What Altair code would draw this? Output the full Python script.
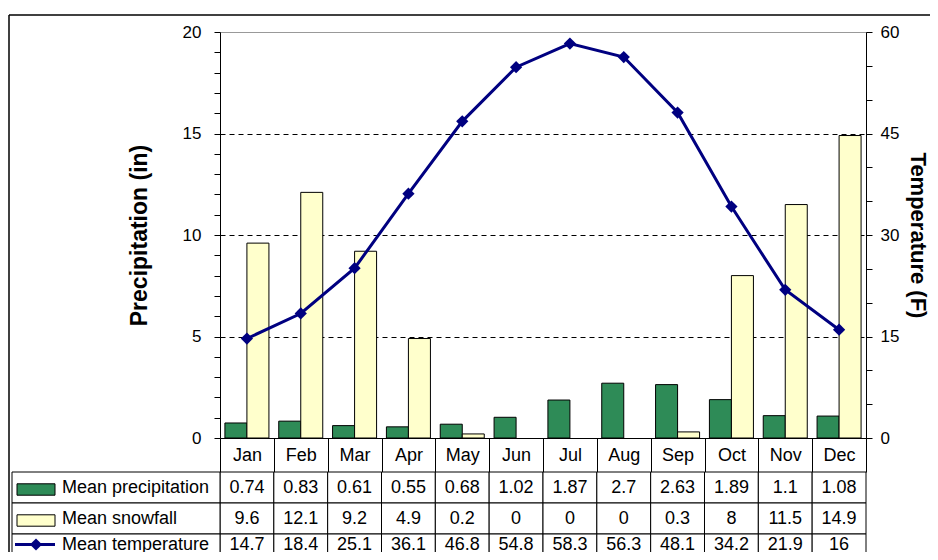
import altair as alt
import pandas as pd

months = ["Jan", "Feb", "Mar", "Apr", "May", "Jun", "Jul", "Aug", "Sep", "Oct", "Nov", "Dec"]
precip = [0.74, 0.83, 0.61, 0.55, 0.68, 1.02, 1.87, 2.7, 2.63, 1.89, 1.1, 1.08]
snow = [9.6, 12.1, 9.2, 4.9, 0.2, 0, 0, 0, 0.3, 8, 11.5, 14.9]
temp = [14.7, 18.4, 25.1, 36.1, 46.8, 54.8, 58.3, 56.3, 48.1, 34.2, 21.9, 16]
row_names = ["Mean precipitation", "Mean snowfall", "Mean temperature"]

GREEN = "#2e8b57"
YELLOW = "#ffffcc"
NAVY = "#000080"
FONT = "Liberation Sans"
W, H, HEAD, ROW, LABW = 646, 406, 34, 31, 208

bars_df = pd.DataFrame({
    "month": months * 2,
    "series": [row_names[0]] * 12 + [row_names[1]] * 12,
    "value": precip + snow,
})
temp_df = pd.DataFrame({"month": months, "temp": temp})
table_df = pd.DataFrame({
    "month": months * 3,
    "row": [r for r in row_names for _ in months],
    "text": [f"{v:g}" for v in precip + snow + temp],
})
rows_df = pd.DataFrame({"row": row_names})
one = pd.DataFrame({"a": [0]})

xenc = alt.X("month:N", sort=months,
             scale=alt.Scale(paddingInner=0, paddingOuter=0),
             axis=alt.Axis(title=None, labelAngle=0, tickBand="extent", tickSize=HEAD,
                           labelPadding=-HEAD / 2, labelBaseline="middle", labelFontSize=18,
                           domainColor="black", tickColor="black"))

bars = alt.Chart(bars_df).mark_bar(strokeWidth=1).encode(
    x=xenc,
    xOffset=alt.XOffset("series:N", sort=row_names[:2],
                        scale=alt.Scale(paddingInner=0, paddingOuter=0.223)),
    y=alt.Y("value:Q", scale=alt.Scale(domain=[0, 20], nice=False),
            axis=alt.Axis(title="Precipitation (in)", values=list(range(21)),
                          labelExpr="datum.value % 5 === 0 ? datum.label : ''",
                          grid=True, gridDash=[5, 4], gridColor="black",
                          gridOpacity={"condition": {"test": "datum.value % 5 === 0 && datum.value > 0 && datum.value < 20", "value": 1}, "value": 0},
                          tickSize=6, labelPadding=13, titlePadding=31,
                          domainColor="black", tickColor="black")),
    color=alt.Color("series:N", sort=row_names[:2],
                    scale=alt.Scale(domain=row_names[:2], range=[GREEN, YELLOW]), legend=None),
    stroke=alt.condition(alt.datum.value > 0, alt.value("black"), alt.value("transparent")),
)

frame_left = alt.Chart(one).mark_rule(color="black", strokeWidth=1.5).encode(
    x=alt.value(-211), y=alt.value(-17), y2=alt.value(H + 200))
frame_top = alt.Chart(one).mark_rule(color="black", strokeWidth=1.5).encode(
    x=alt.value(-211), x2=alt.value(W + 80), y=alt.value(-17))

line = alt.Chart(temp_df).mark_line(
    color=NAVY, strokeWidth=3,
    point=alt.OverlayMarkDef(shape="diamond", filled=True, size=150, color=NAVY)).encode(
    x=xenc,
    y=alt.Y("temp:Q", scale=alt.Scale(domain=[0, 60], nice=False),
            axis=alt.Axis(orient="right", title="Temperature (F)", values=list(range(0, 61, 5)),
                          labelExpr="datum.value % 15 === 0 ? datum.label : ''",
                          grid=False, tickSize=6, labelPadding=8, titlePadding=7,
                          titleFontSize=22, domainColor="black", tickColor="black")),
)

# data table below the plot, on its own band scale
ty = alt.Y("row:N", sort=row_names,
           scale=alt.Scale(domain=row_names, range=[H + HEAD, H + HEAD + 3 * ROW],
                           paddingInner=0, paddingOuter=0),
           axis=None)

cells = alt.Chart(table_df).mark_rect(fill="white", stroke="black", strokeWidth=1).encode(
    x=xenc, y=ty)
lab_cells = alt.Chart(rows_df).mark_rect(fill="white", stroke="black", strokeWidth=1).encode(
    x=alt.value(-LABW), x2=alt.value(0), y=ty)
texts = alt.Chart(table_df).transform_filter(
    alt.datum.row != row_names[2]).mark_text(fontSize=18, font=FONT, color="black").encode(
    x=xenc, y=ty, text="text:N")
# the last row is cut by the window edge: sit its text on the row's middle line
texts_last = alt.Chart(table_df).transform_filter(
    alt.datum.row == row_names[2]).mark_text(fontSize=18, font=FONT, color="black",
                                             baseline="alphabetic").encode(
    x=xenc, y=ty, text="text:N")
labels = alt.Chart(rows_df).transform_filter(
    alt.datum.row != row_names[2]).mark_text(fontSize=18, font=FONT, color="black",
                                             align="left").encode(
    x=alt.value(-158), y=ty, text="row:N")
labels_last = alt.Chart(rows_df).transform_filter(
    alt.datum.row == row_names[2]).mark_text(fontSize=18, font=FONT, color="black",
                                             align="left", baseline="alphabetic").encode(
    x=alt.value(-158), y=ty, text="row:N")
sw_bars = alt.Chart(rows_df).transform_filter(
    alt.FieldOneOfPredicate(field="row", oneOf=row_names[:2])).mark_point(
    shape="M-1,-0.3L1,-0.3L1,0.3L-1,0.3Z", filled=True, size=1444, stroke="black",
    strokeWidth=1, opacity=1).encode(
    x=alt.value(-184), y=ty, yOffset=alt.value(ROW / 2 + 2),
    fill=alt.Fill("row:N", scale=alt.Scale(domain=row_names[:2], range=[GREEN, YELLOW]),
                  legend=None))
sw_line = alt.Chart(rows_df).transform_filter(
    alt.datum.row == row_names[2]).mark_rule(color=NAVY, strokeWidth=3).encode(
    x=alt.value(-205), x2=alt.value(-165), y=ty, yOffset=alt.value(ROW / 2 - 5))
sw_dia = alt.Chart(rows_df).transform_filter(
    alt.datum.row == row_names[2]).mark_point(shape="diamond", filled=True, size=150,
                                              color=NAVY, opacity=1).encode(
    x=alt.value(-184), y=ty, yOffset=alt.value(ROW / 2 - 5))

table = alt.layer(cells, lab_cells, texts, texts_last, labels, labels_last,
                  sw_bars, sw_line, sw_dia)

chart = alt.layer(
    alt.layer(bars, frame_left, frame_top), line, table
).resolve_scale(y="independent").properties(
    width=W, height=H,
    autosize=alt.AutoSizeParams(type="none"),
    padding={"left": 212, "top": 24, "right": 64, "bottom": 114},
    background="white",
).configure_view(stroke="#999999").configure_axis(
    labelFont=FONT, titleFont=FONT, labelColor="black", titleColor="black",
    labelFontSize=17, titleFontSize=23, titleFontWeight="bold",
)

chart.save("out.html", embed_options={"renderer": "svg", "actions": False})
